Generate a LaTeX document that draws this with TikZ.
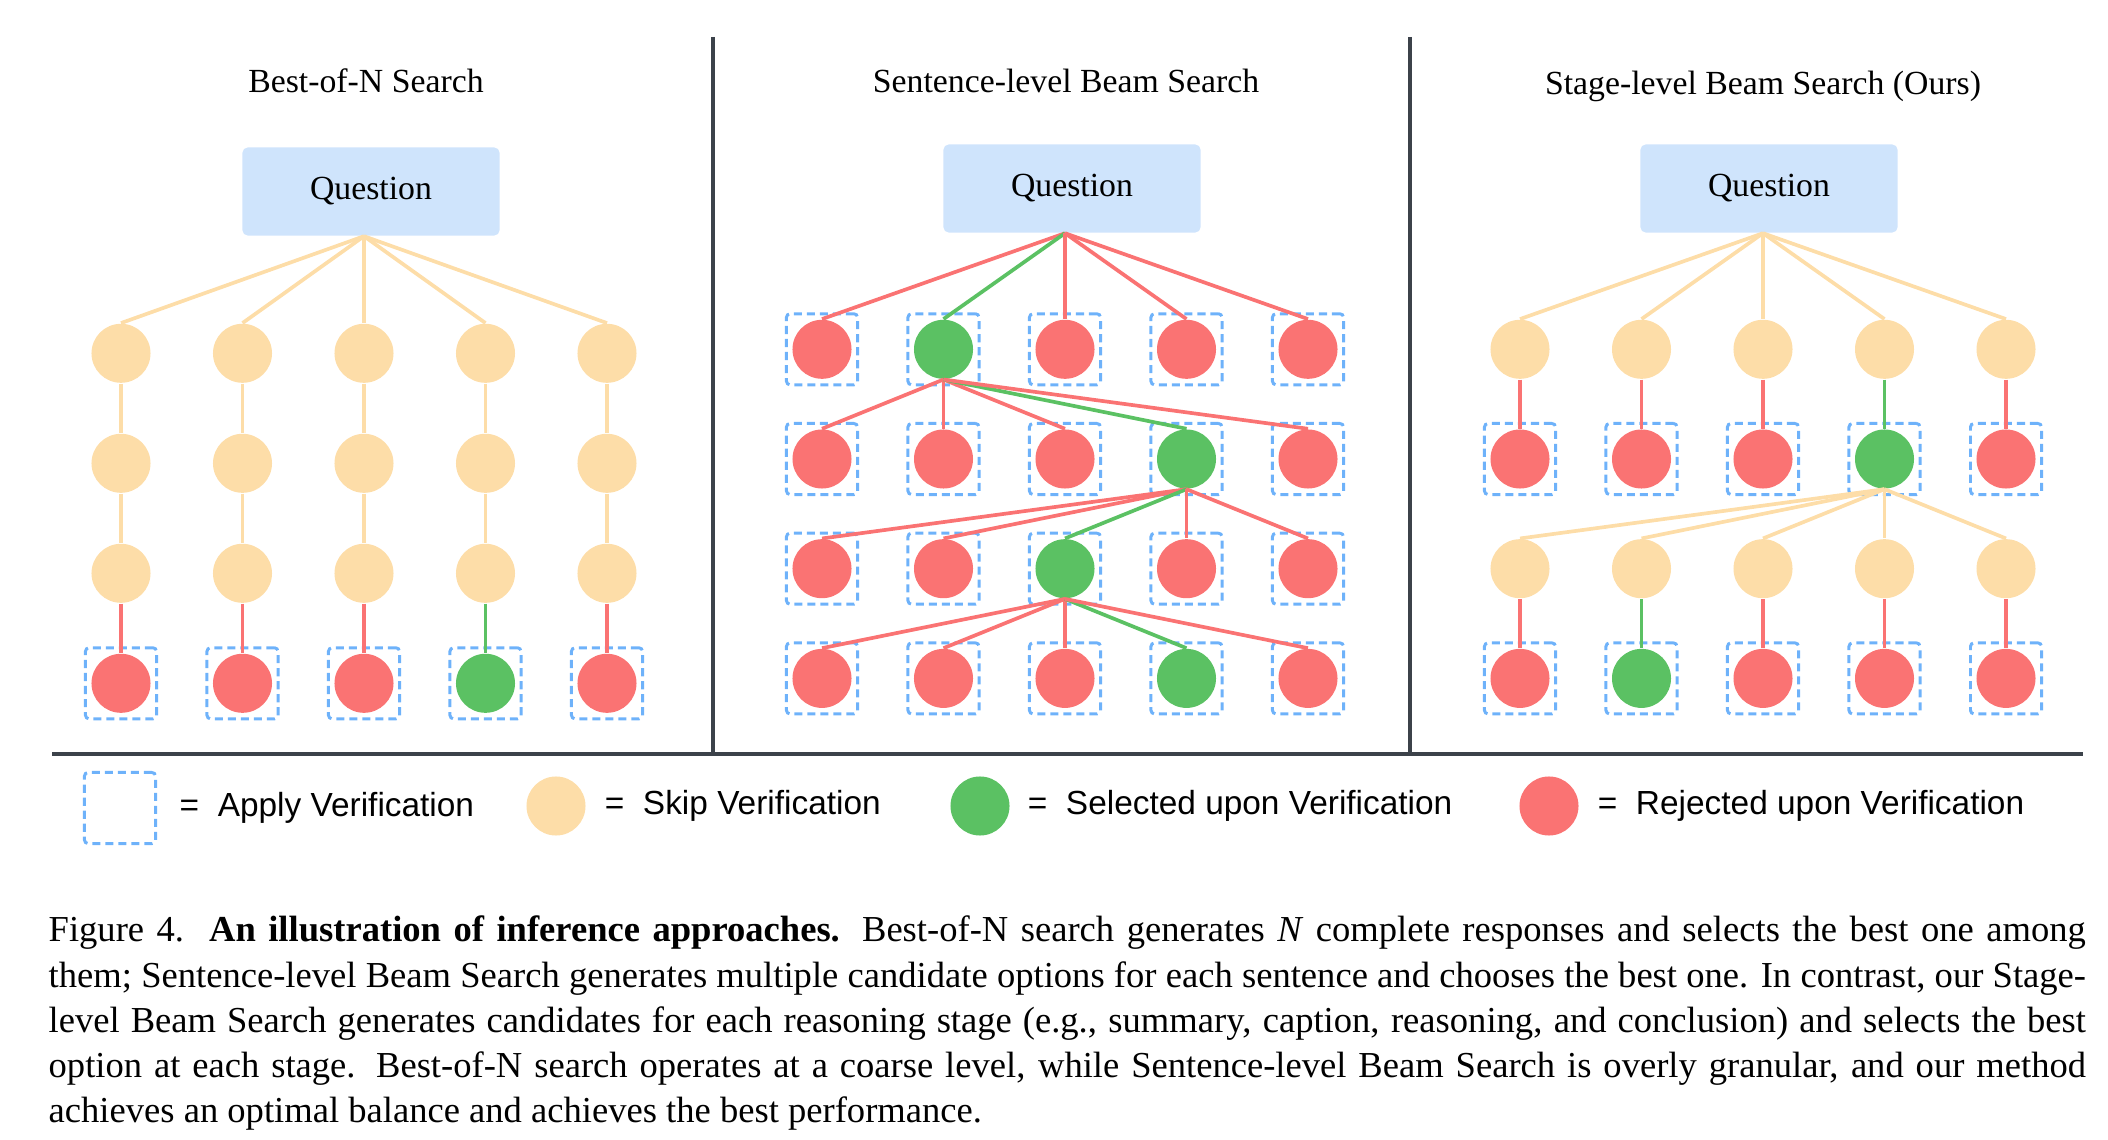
\documentclass[tikz,border=0pt]{standalone}
\usepackage{fontspec}
\setmainfont{Liberation Serif}
\setsansfont{Liberation Sans}
\usetikzlibrary{positioning, calc}
\definecolor{QuestionFill}{RGB}{207,228,252}
\definecolor{SkipFill}{RGB}{253,221,168}
\definecolor{SelFill}{RGB}{91,193,99}
\definecolor{RejFill}{RGB}{250,115,115}
\definecolor{VerifyLine}{RGB}{110,178,250}
\definecolor{RuleLine}{RGB}{60,66,74}

\begin{document}
\begin{tikzpicture}[
    x=0.01cm, y=-0.01cm,
    paneltitle/.style={font=\fontsize{9.6}{11.5}\selectfont, anchor=base,
        inner sep=0pt},
    qbox/.style={
        rectangle, rounded corners=1.5pt, fill=QuestionFill,
        minimum width=2.57cm, minimum height=0.88cm,
        font=\fontsize{9.6}{11.5}\selectfont
    },
    ball/.style={circle, minimum size=0.59cm, inner sep=0pt, fill=#1},
    ball/.default=SkipFill,
    verify/.style={
        rectangle, draw=VerifyLine, line width=0.85pt,
        dash pattern=on 2.3pt off 1.4pt, rounded corners=1pt,
        minimum size=0.71cm, inner sep=0pt
    },
    branch/.style={line width=1.05pt, draw=#1},
    branch/.default=SkipFill,
    divider/.style={line width=1pt, draw=RuleLine},
    legendtext/.style={font=\fontsize{9.5}{11}\sffamily, inner sep=0pt},
    captext/.style={font=\fontsize{10.4}{12.8}\selectfont,
        text width=20.36cm, align=justify, inner sep=0pt}
]
\useasboundingbox (0,0) rectangle (2108,1140);

% ===================================================================
% DIVIDERS
% ===================================================================
\draw[divider] (713,37) -- (713,754);
\draw[divider] (1410,37) -- (1410,754);
\draw[divider, line width=1.25pt] (52,754) -- (2083,754);

% ===================================================================
% BEST-OF-N
% ===================================================================
\node[paneltitle] (t1) at (366,93) {Best-of-N Search};
\node[qbox] (q1) at (371,191.5) {Question};
\coordinate (q1root) at ($(q1.south)+(-7,0)$);

\foreach \c/\col in {1/RejFill,2/RejFill,3/RejFill,4/SelFill,5/RejFill} {
    \foreach \r in {1,2,3}
        \node[ball] (bn-\r-\c) at ({364+(\c-3)*121.5},{353.3+(\r-1)*110}) {};
    \node[verify] (bnv-\c) at ({364+(\c-3)*121.5},683.3) {};
    \node[ball=\col] (bn-4-\c) at (bnv-\c) {};
    \draw[branch] (q1root) -- (bn-1-\c.north);
    \draw[branch] (bn-1-\c) -- (bn-2-\c);
    \draw[branch] (bn-2-\c) -- (bn-3-\c);
    \draw[branch=\col] (bn-3-\c) -- (bn-4-\c);
}

% ===================================================================
% SENTENCE-LEVEL BEAM SEARCH
% ===================================================================
\node[paneltitle] (t2) at (1066,93) {Sentence-level Beam Search};
\node[qbox] (q2) at (1072,188.5) {Question};
\coordinate (q2root) at ($(q2.south)+(-7,0)$);

\foreach \r/\s/\p in {1/2/q2root,2/4/sl-1-2.south,3/3/sl-2-4.south,4/4/sl-3-3.south} {
    \foreach \c in {1,...,5} {
        \ifnum\c=\s \def\col{SelFill}\else\def\col{RejFill}\fi
        \node[verify] (slv-\r-\c) at ({1065+(\c-3)*121.5},{349.3+(\r-1)*109.7}) {};
        \node[ball=\col] (sl-\r-\c) at (slv-\r-\c) {};
        \draw[branch=\col] (\p) -- (sl-\r-\c.north);
    }
}

% ===================================================================
% STAGE-LEVEL BEAM SEARCH (OURS)
% ===================================================================
\node[paneltitle] (t3) at (1763,95) {Stage-level Beam Search (Ours)};
\node[qbox] (q3) at (1769,188.5) {Question};
\coordinate (q3root) at ($(q3.south)+(-6,0)$);

\foreach \c/\ca/\cb in {1/RejFill/RejFill,2/RejFill/SelFill,3/RejFill/RejFill,4/SelFill/RejFill,5/RejFill/RejFill} {
    \node[ball] (st-1-\c) at ({1763+(\c-3)*121.5},349.3) {};
    \node[verify] (stv-2-\c) at ({1763+(\c-3)*121.5},459) {};
    \node[ball=\ca] (st-2-\c) at (stv-2-\c) {};
    \node[ball] (st-3-\c) at ({1763+(\c-3)*121.5},568.7) {};
    \node[verify] (stv-4-\c) at ({1763+(\c-3)*121.5},678.4) {};
    \node[ball=\cb] (st-4-\c) at (stv-4-\c) {};
    \draw[branch] (q3root) -- (st-1-\c.north);
    \draw[branch=\ca] (st-1-\c) -- (st-2-\c);
    \draw[branch=\cb] (st-3-\c) -- (st-4-\c);
}
\foreach \c in {1,...,5}
    \draw[branch] (st-2-4.south) -- (st-3-\c.north);

% ===================================================================
% LEGEND
% ===================================================================
\node[verify] (lgv) at (120,808) {};
\node[legendtext, right=0.22cm of lgv] (lgvt) {=~~Apply Verification};
\node[ball] (lgs) at (556,806) {};
\node[legendtext, right=0.18cm of lgs] (lgst) {=~~Skip Verification};
\node[ball=SelFill] (lgg) at (980,806) {};
\node[legendtext, right=0.17cm of lgg] (lggt) {=~~Selected upon Verification};
\node[ball=RejFill] (lgr) at (1549,806) {};
\node[legendtext, right=0.18cm of lgr] (lgrt) {=~~Rejected upon Verification};

% ===================================================================
% CAPTION
% ===================================================================
\node[captext, anchor=base west] (cap) at (48,942) {%
    Figure~4.\ \ \textbf{An illustration of inference approaches.}
    Best-of-N search generates \textit{N} complete responses and selects
    the best one among\linebreak
    them; Sentence-level Beam Search generates multiple candidate options
    for each sentence and chooses the best one. In contrast, our
    Stage-\linebreak
    level Beam Search generates candidates for each reasoning stage (e.g.,
    summary, caption, reasoning, and conclusion) and selects the
    best\linebreak
    option at each stage. Best-of-N search operates at a coarse level,
    while Sentence-level Beam Search is overly granular, and our
    method\linebreak
    achieves an optimal balance and achieves the best performance.};

\end{tikzpicture}
\end{document}
